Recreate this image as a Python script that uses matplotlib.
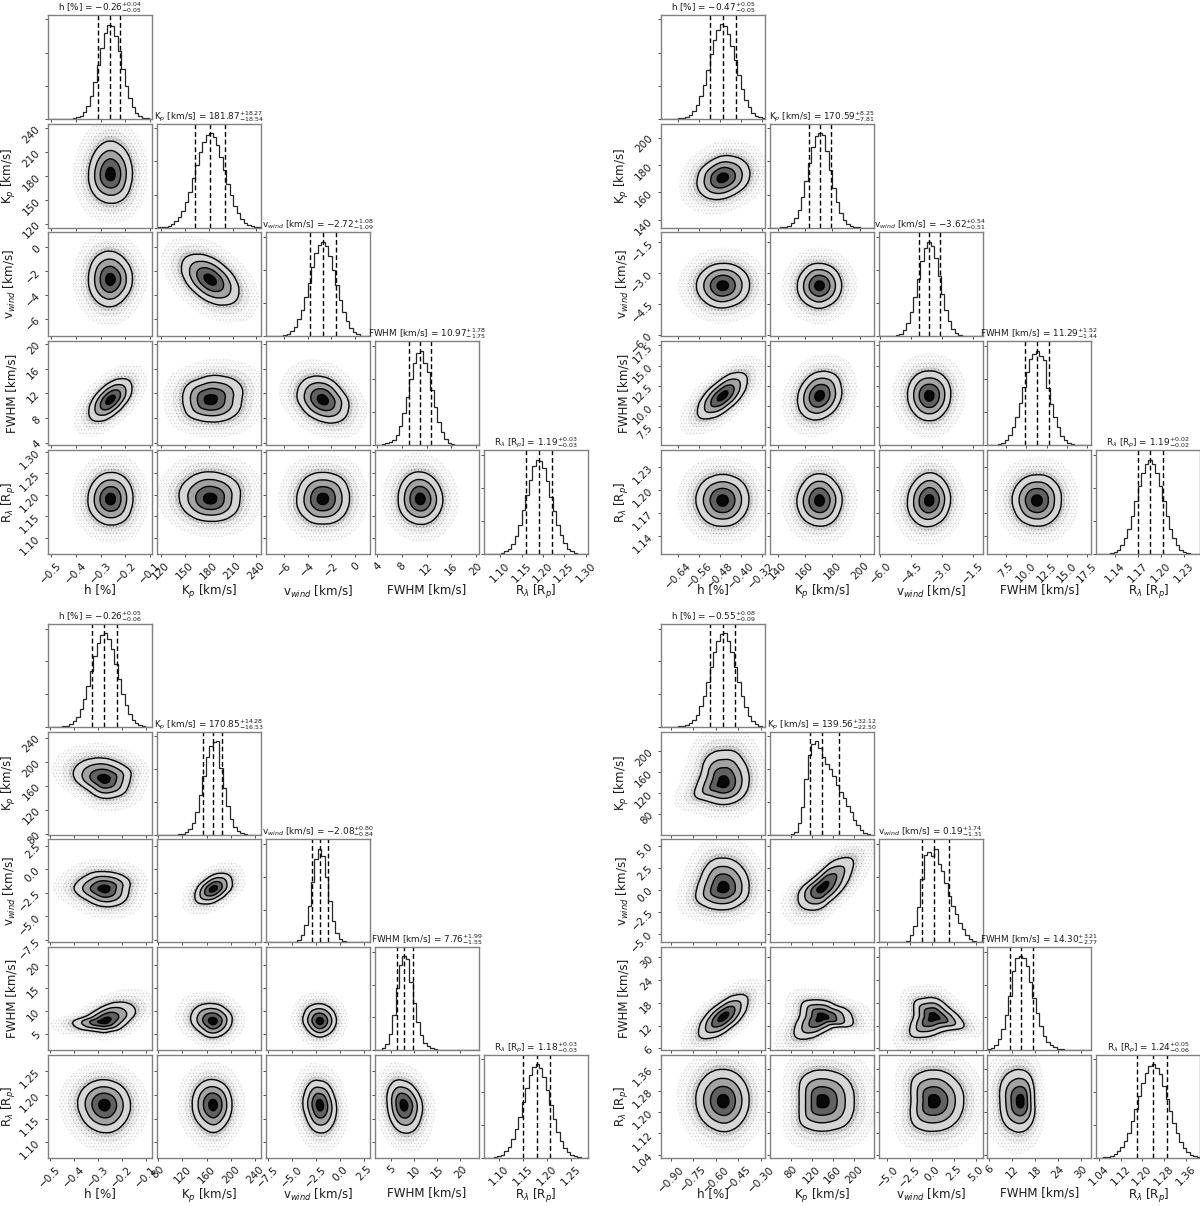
import numpy as np
import matplotlib
matplotlib.use("Agg")
import matplotlib.pyplot as plt
from matplotlib.path import Path
from matplotlib.patches import PathPatch

plt.rcParams["hatch.linewidth"] = 0.3

LABELS = ["h [%]", "K$_p$ [km/s]", "v$_{wind}$ [km/s]", "FWHM [km/s]", r"R$_{\lambda}$ [R$_p$]"]
ANGLES = np.deg2rad(np.arange(16) * 22.5)

# ---- top left
C1_TITLES = ["h [%] = $-0.26^{+0.04}_{-0.05}$", "K$_p$ [km/s] = $181.87^{+18.27}_{-18.54}$",
             "v$_{wind}$ [km/s] = $-2.72^{+1.08}_{-1.09}$", "FWHM [km/s] = $10.97^{+1.78}_{-1.75}$",
             r"R$_{\lambda}$ [R$_p$] = $1.19^{+0.03}_{-0.03}$"]
C1_LIMS = [(-0.511, -0.091), (115, 246), (-7.5, 1.24), (3.6, 20.4), (1.061, 1.304)]
C1_TICKS = [[-0.5, -0.4, -0.3, -0.2, -0.1], [120, 150, 180, 210, 240], [-6, -4, -2, 0], [4, 8, 12, 16, 20],
            [1.10, 1.15, 1.20, 1.25, 1.30]]
C1_FMT = ["%.1f", "%d", "%d", "%d", "%.2f"]
C1_QUANT = [(-0.31, -0.26, -0.22), (163.3, 181.87, 200.1), (-3.81, -2.72, -1.64), (9.22, 10.97, 12.75), (1.16, 1.19, 1.22)]
C1_HIST = [
    [0, 0, 0, 0, 0, 0, 0.1, 0.5, 1.3, 3, 7, 13, 24, 39, 57, 75, 91, 99, 98, 88, 72, 53, 35, 22, 12, 6, 2.5, 1, 0.3, 0],
    [0.2, 0.4, 0.9, 1.8, 3.4, 6.5, 11, 18, 27, 38, 52, 66, 80, 91, 98, 100, 96, 87, 75, 61, 46, 34, 23, 15, 9, 5, 2.6, 1.3, 0.7, 0.3],
    [0, 0, 0, 0.2, 0.6, 1.3, 2.8, 5.5, 10, 18, 28, 42, 57, 74, 88, 97, 100, 96, 85, 70, 54, 39, 26, 16, 9, 5, 2.4, 1, 0.4, 0.2],
    [0.1, 0.4, 1, 2.5, 4, 6, 11, 20, 34, 51, 70, 87, 98, 100, 87, 78, 59, 41, 25, 14, 7, 3, 1.3, 0.5, 0.2, 0, 0, 0, 0, 0],
    [0, 0, 0, 0.2, 0.6, 1.3, 3, 6, 11, 19, 31, 47, 63, 79, 93, 100, 99, 91, 78, 61, 46, 31, 20, 12, 6, 3, 1.5, 0.7, 0.2, 0.1],
]
C1_SHAPE = [
    [1.95, 2.0, 2.1, 2.2, 2.3, 2.2, 2.05, 1.95, 1.95, 2.0, 2.0, 1.95, 1.95, 2.0, 2.05, 1.95],
    [1.95, 2.0, 2.0, 2.1, 2.2, 2.2, 2.15, 2.0, 1.95, 2.0, 2.05, 2.1, 2.1, 2.0, 1.9, 1.95],
    [1.73, 1.5, 1.4, 1.5, 1.75, 2.15, 2.45, 2.15, 1.73, 1.5, 1.4, 1.5, 1.75, 2.15, 2.45, 2.15],
    [1.6, 2.1, 2.5, 2.1, 1.6, 1.35, 1.25, 1.35, 1.6, 2.1, 2.55, 2.15, 1.6, 1.3, 1.25, 1.3],
    [2.1, 2.4, 2.5, 2.3, 2.2, 2.0, 2.1, 1.95, 1.85, 1.9, 2.1, 2.0, 2.0, 2.1, 2.2, 2.2],
    [1.95, 1.7, 1.7, 1.9, 2.1, 2.3, 2.3, 2.1, 1.95, 1.75, 1.75, 1.8, 2.0, 2.3, 2.4, 2.15],
    [2.0, 2.05, 2.1, 2.1, 2.05, 2.05, 2.0, 2.0, 2.0, 2.05, 2.0, 2.0, 2.0, 2.05, 2.1, 2.0],
    [2.0, 2.2, 2.2, 2.1, 2.1, 2.15, 2.15, 2.2, 2.1, 2.0, 1.85, 1.75, 1.7, 1.8, 1.95, 2.05],
    [2.05, 2.1, 2.2, 2.1, 2.05, 2.1, 2.1, 2.0, 2.0, 2.05, 2.0, 2.0, 1.9, 2.0, 2.05, 2.05],
    [2.05, 2.0, 2.0, 2.05, 2.1, 2.15, 2.1, 2.05, 2.0, 2.05, 2.0, 1.95, 1.95, 2.0, 2.0, 2.05],
]

# ---- top right
C2_TITLES = ["h [%] = $-0.47^{+0.05}_{-0.05}$", "K$_p$ [km/s] = $170.59^{+8.25}_{-7.81}$",
             "v$_{wind}$ [km/s] = $-3.62^{+0.54}_{-0.51}$", "FWHM [km/s] = $11.29^{+1.52}_{-1.44}$",
             r"R$_{\lambda}$ [R$_p$] = $1.19^{+0.02}_{-0.02}$"]
C2_LIMS = [(-0.707, -0.307), (134.3, 210.2), (-6.09, -1.03), (5.2, 18.0), (1.116, 1.2515)]
C2_TICKS = [[-0.64, -0.56, -0.48, -0.40, -0.32], [140, 160, 180, 200], [-6.0, -4.5, -3.0, -1.5],
            [7.5, 10.0, 12.5, 15.0, 17.5], [1.14, 1.17, 1.20, 1.23]]
C2_FMT = ["%.2f", "%d", "%.1f", "%.1f", "%.2f"]
C2_QUANT = [(-0.52, -0.47, -0.42), (162.8, 170.59, 178.84), (-4.13, -3.62, -3.08), (9.85, 11.29, 12.81), (1.17, 1.186, 1.203)]
C2_HIST = [
    [0, 0, 0, 0, 0.1, 0.3, 0.9, 2, 4, 8, 15, 24, 36, 52, 68, 83, 94, 100, 98, 90, 77, 62, 46, 31, 20, 12, 6.5, 3, 1.5, 0.6],
    [0, 0, 0.1, 0.3, 0.9, 2.2, 5, 10, 19, 32, 49, 68, 85, 97, 100, 98, 81, 61, 42, 27, 15, 8, 4, 1.6, 0.7, 0.3, 0.1, 0, 0, 0],
    [0, 0, 0, 0.2, 0.5, 1.3, 3, 7, 14, 26, 42, 61, 80, 94, 100, 96, 83, 64, 45, 28, 16, 8, 4, 1.6, 0.6, 0.2, 0, 0, 0, 0],
    [0.1, 0.2, 0.5, 1.2, 2.8, 5.5, 11, 19, 30, 45, 62, 78, 91, 97, 100, 95, 90, 61, 44, 30, 19, 10, 5.5, 2.8, 1.2, 0.5, 0.2, 0, 0, 0],
    [0, 0.1, 0.2, 0.5, 1.2, 2.6, 5, 10, 17, 27, 40, 56, 72, 86, 96, 100, 96, 86, 72, 56, 40, 27, 17, 10, 5, 2.6, 1.2, 0.5, 0.2, 0.1],
]
C2_SHAPE = [
    [2.05, 2.2, 2.25, 2.1, 2.0, 1.8, 1.75, 1.85, 1.9, 2.1, 2.2, 2.1, 1.9, 1.75, 1.75, 1.9],
    [2.05, 2.1, 2.1, 2.1, 2.05, 2.05, 2.0, 2.0, 2.0, 2.0, 2.0, 2.05, 2.05, 2.0, 2.05, 2.05],
    [2.0, 2.0, 2.05, 2.05, 2.05, 2.1, 2.0, 2.0, 2.0, 2.05, 2.05, 2.05, 2.1, 2.0, 2.0, 2.0],
    [1.45, 2.0, 2.6, 2.1, 1.45, 1.15, 1.1, 1.2, 1.45, 2.05, 2.65, 2.0, 1.45, 1.15, 1.1, 1.2],
    [2.0, 2.1, 2.3, 2.15, 2.0, 1.9, 1.8, 1.85, 1.95, 2.1, 2.2, 2.1, 1.95, 1.8, 1.8, 1.85],
    [1.95, 2.05, 2.1, 2.1, 2.05, 2.1, 2.1, 2.05, 2.0, 2.0, 2.0, 2.05, 2.05, 2.05, 1.95, 1.95],
    [2.0, 2.05, 2.1, 2.05, 2.05, 2.05, 2.1, 2.05, 2.05, 2.0, 2.05, 2.05, 2.0, 2.05, 2.0, 2.0],
    [2.05, 2.05, 2.0, 2.1, 2.1, 2.1, 2.0, 2.0, 2.05, 2.05, 2.05, 2.0, 2.0, 2.05, 2.05, 2.0],
    [1.95, 2.0, 2.05, 2.15, 2.2, 2.1, 2.0, 2.0, 2.0, 2.1, 2.1, 2.1, 2.05, 1.95, 1.95, 1.9],
    [2.0, 2.1, 2.1, 2.1, 2.0, 2.05, 2.05, 2.05, 2.05, 2.0, 2.05, 2.0, 2.0, 2.05, 2.05, 2.05],
]

# ---- bottom left
C3_TITLES = ["h [%] = $-0.26^{+0.05}_{-0.06}$", "K$_p$ [km/s] = $170.85^{+14.28}_{-16.53}$",
             "v$_{wind}$ [km/s] = $-2.08^{+0.80}_{-0.84}$", "FWHM [km/s] = $7.76^{+1.99}_{-1.55}$",
             r"R$_{\lambda}$ [R$_p$] = $1.18^{+0.03}_{-0.03}$"]
C3_LIMS = [(-0.508, -0.074), (78, 250), (-7.74, 3.15), (1.47, 23.95), (1.067, 1.285)]
C3_TICKS = [[-0.5, -0.4, -0.3, -0.2, -0.1], [80, 120, 160, 200, 240], [-7.5, -5.0, -2.5, 0.0, 2.5], [5, 10, 15, 20],
            [1.10, 1.15, 1.20, 1.25]]
C3_FMT = ["%.1f", "%d", "%.1f", "%d", "%.2f"]
C3_QUANT = [(-0.327, -0.274, -0.221), (154.3, 170.85, 185.1), (-2.92, -2.08, -1.28), (6.21, 7.76, 9.75), (1.15, 1.179, 1.207)]
C3_HIST = [
    [0, 0, 0, 0.2, 0.7, 1.4, 3, 6, 11, 19, 30, 44, 60, 76, 90, 98, 100, 94, 83, 67, 51, 35, 23, 14, 8, 4, 1.8, 0.9, 0.4, 0.1],
    [0, 0, 0, 0, 0.1, 0.2, 0.5, 1.2, 3, 6, 13, 24, 42, 63, 83, 95, 99, 100, 71, 50, 31, 17, 8, 3.5, 1.5, 0.6, 0.2, 0.1, 0, 0],
    [0, 0, 0, 0, 0, 0, 0, 0.2, 0.8, 3, 8, 19, 39, 65, 89, 100, 92, 70, 44, 23, 10, 3.5, 1, 0.3, 0.1, 0, 0, 0, 0, 0],
    [0, 0.4, 2, 6, 17, 37, 66, 91, 100, 97, 73, 50, 30, 16, 8, 4, 2, 1, 0.6, 0.4, 0.3, 0.2, 0.1, 0, 0, 0, 0, 0, 0, 0],
    [0.1, 0.2, 0.3, 0.8, 1.8, 3.5, 7, 12, 20, 31, 44, 60, 75, 88, 97, 100, 96, 86, 72, 56, 41, 28, 18, 11, 6, 3, 1.5, 0.7, 0.3, 0.1],
]
C3_SHAPE = [
    [2.0, 2.25, 2.1, 2.1, 2.25, 2.4, 2.6, 2.6, 2.35, 1.9, 1.7, 1.9, 2.1, 2.1, 2.2, 2.0],
    [1.9, 2.2, 2.25, 2.2, 2.2, 2.3, 2.2, 2.3, 2.4, 2.15, 1.95, 2.1, 2.3, 2.35, 2.25, 2.0],
    [1.95, 2.2, 2.5, 2.2, 1.8, 1.5, 1.4, 1.55, 1.75, 2.15, 2.5, 2.1, 1.8, 1.5, 1.5, 1.55],
    [1.9, 2.7, 3.0, 2.6, 1.9, 1.5, 1.4, 1.5, 2.6, 2.3, 1.6, 1.35, 1.4, 1.3, 1.5, 1.6],
    [2.0, 2.1, 2.0, 2.1, 2.15, 2.3, 2.5, 2.5, 2.4, 2.1, 1.9, 2.0, 2.0, 1.95, 1.9, 1.95],
    [2.1, 2.1, 2.1, 2.1, 2.15, 2.2, 2.3, 2.2, 2.2, 1.95, 1.9, 1.9, 1.95, 1.9, 1.95, 2.0],
    [2.05, 2.0, 1.95, 1.85, 1.85, 1.9, 2.0, 2.1, 2.1, 2.0, 2.0, 2.0, 2.05, 2.1, 2.05, 2.05],
    [2.0, 2.0, 1.95, 1.85, 1.85, 1.95, 2.1, 2.25, 2.25, 2.2, 2.05, 2.0, 2.05, 2.0, 1.95, 2.0],
    [2.1, 1.9, 1.85, 1.8, 1.75, 1.95, 2.1, 2.15, 2.2, 2.0, 2.0, 2.05, 2.05, 2.15, 2.2, 2.2],
    [2.3, 2.0, 1.8, 1.75, 1.75, 2.0, 2.2, 2.2, 2.0, 1.95, 1.95, 2.0, 2.05, 2.2, 2.3, 2.3],
]

# ---- bottom right
C4_TITLES = ["h [%] = $-0.55^{+0.08}_{-0.09}$", "K$_p$ [km/s] = $139.56^{+32.12}_{-22.50}$",
             "v$_{wind}$ [km/s] = $0.19^{+1.74}_{-1.31}$", "FWHM [km/s] = $14.30^{+3.21}_{-2.77}$",
             r"R$_{\lambda}$ [R$_p$] = $1.24^{+0.05}_{-0.06}$"]
C4_LIMS = [(-0.967, -0.272), (40, 238), (-6.0, 5.7), (5.5, 32.75), (1.029, 1.414)]
C4_TICKS = [[-0.90, -0.75, -0.60, -0.45, -0.30], [80, 120, 160, 200], [-5.0, -2.5, 0.0, 2.5, 5.0], [6, 12, 18, 24, 30],
            [1.04, 1.12, 1.20, 1.28, 1.36]]
C4_FMT = ["%.2f", "%d", "%.1f", "%d", "%.2f"]
C4_QUANT = [(-0.64, -0.55, -0.47), (117.1, 139.56, 171.7), (-1.12, 0.19, 1.93), (11.53, 14.30, 17.51), (1.18, 1.24, 1.29)]
C4_HIST = [
    [0, 0.1, 0.2, 0.3, 0.5, 0.8, 1.2, 2, 4, 7, 13, 22, 33, 48, 64, 80, 92, 99, 100, 92, 80, 64, 48, 33, 21, 12, 6, 3, 1.2, 0.4],
    [0, 0, 0, 0, 0, 0, 0.5, 3, 12, 30, 60, 85, 97, 100, 93, 83, 76, 70, 63, 53, 46, 39, 31, 24, 16, 10, 5, 2, 0.7, 0.2],
    [0, 0, 0, 0, 0.1, 0.1, 0.3, 0.7, 1.5, 8, 18, 38, 68, 93, 97, 92, 100, 84, 76, 63, 50, 39, 30, 21, 14, 8, 4, 2, 0.8, 0.3],
    [0.7, 2, 5, 12, 23, 38, 58, 85, 98, 100, 98, 90, 73, 56, 40, 26, 15, 9, 5, 3, 1.5, 0.8, 0.4, 0.2, 0.1, 0.1, 0, 0, 0, 0],
    [0.1, 0.2, 0.5, 1, 2, 4, 7, 12, 18, 27, 39, 52, 66, 80, 91, 98, 100, 96, 89, 77, 63, 50, 37, 26, 17, 11, 6, 3.5, 1.8, 0.8],
]
C4_SHAPE = [
    [2.0, 2.1, 2.2, 2.4, 2.25, 2.3, 2.15, 1.8, 2.0, 2.55, 1.75, 1.55, 1.5, 1.55, 1.7, 1.9],
    [2.0, 2.05, 2.1, 2.2, 2.2, 2.25, 2.05, 1.9, 2.05, 2.35, 1.95, 1.7, 1.6, 1.65, 1.75, 2.0],
    [1.5, 2.1, 3.2, 2.3, 1.3, 1.0, 0.95, 1.05, 1.45, 1.85, 2.05, 1.8, 1.5, 1.15, 1.1, 1.2],
    [1.45, 2.0, 2.7, 2.1, 1.4, 1.15, 1.1, 1.2, 1.45, 2.05, 2.7, 2.0, 1.45, 1.15, 1.1, 1.2],
    [2.1, 1.85, 1.35, 1.4, 1.45, 1.6, 1.9, 1.6, 1.5, 2.05, 2.7, 2.1, 1.4, 1.2, 1.2, 2.3],
    [1.9, 1.45, 1.35, 1.5, 1.7, 1.75, 2.0, 1.55, 1.4, 1.85, 2.45, 1.95, 1.6, 1.4, 1.6, 2.55],
    [2.0, 2.05, 2.1, 2.15, 2.15, 2.2, 2.2, 2.2, 2.15, 2.1, 2.05, 2.0, 2.05, 2.05, 2.0, 2.0],
    [2.2, 2.3, 2.3, 2.15, 2.1, 2.15, 2.1, 1.7, 1.55, 1.7, 2.15, 2.05, 2.0, 2.05, 2.3, 2.3],
    [2.2, 2.25, 2.15, 2.15, 2.1, 2.15, 2.2, 1.8, 1.6, 1.85, 2.2, 2.1, 2.0, 2.05, 2.15, 2.2],
    [1.15, 1.25, 1.55, 2.0, 2.15, 2.2, 2.2, 2.0, 1.8, 1.9, 2.1, 2.1, 2.1, 1.9, 1.6, 1.3],
]

CLOUD = [(1.75, "0.975", "0.8"), (1.4, "0.93", "0.65"), (1.18, "0.82", "0.45")]
BANDS = [(1.03, "0.84"), (0.74, "0.64"), (0.48, "0.38"), (0.22, "0.03")]

FIG_W, FIG_H = 1200, 1206
fig = plt.figure(figsize=(FIG_W / 100, FIG_H / 100), dpi=100)


def new_axes(left, top, w, h):
    return fig.add_axes([left / FIG_W, 1 - (top + h) / FIG_H, w / FIG_W, h / FIG_H])


def blob_path(cx, cy, sx, sy, radii, scale):
    xs = cx + scale * np.array(radii) * np.cos(ANGLES) * sx
    ys = cy + scale * np.array(radii) * np.sin(ANGLES) * sy
    pts = np.column_stack([xs, ys])
    nxt = np.roll(pts, -1, axis=0)
    mids = (pts + nxt) / 2
    verts = [mids[-1]]
    codes = [Path.MOVETO]
    for i in range(len(pts)):
        verts += [pts[i], mids[i]]
        codes += [Path.CURVE3, Path.CURVE3]
    return Path(verts, codes)


def style(ax, lim_x, lim_y, ticks_x, ticks_y):
    ax.set_xlim(lim_x)
    ax.set_ylim(lim_y)
    ax.set_xticks(ticks_x)
    ax.set_yticks(ticks_y)
    ax.tick_params(labelbottom=False, labelleft=False, length=2.5, width=0.7, color="0.3", labelsize=7.6, labelcolor="0.1", pad=2)
    for spine in ax.spines.values():
        spine.set_color("0.5")
        spine.set_linewidth(1.0)


def draw_corner(x0, y0, pitch_y, h, titles, lims, ticks, fmts, quants, hists, shapes):
    pitch_x = 108.8
    w = 104
    tick_text = [[(fmts[k] % t).replace("-", "\u2212") for t in ticks[k]] for k in range(5)]
    sigmas = [(q[2] - q[0]) / 2 for q in quants]
    n = 0
    for row in range(5):
        for col in range(row + 1):
            ax = new_axes(x0 + col * pitch_x, y0 + row * pitch_y, w, h)
            if row == col:
                edges = np.linspace(lims[col][0], lims[col][1], len(hists[col]) + 1)
                ax.stairs(hists[col], edges, color="0.15", linewidth=0.9)
                for q in quants[col]:
                    ax.axvline(q, color="k", linestyle="--", linewidth=1.0, dashes=(3.5, 2))
                style(ax, lims[col], (0, 110), ticks[col], [0, 35, 70, 105])
                ax.set_title(titles[col], fontsize=6.4, pad=1.5, color="0.1")
            else:
                cx, cy = quants[col][1], quants[row][1]
                sx, sy = sigmas[col], sigmas[row]
                radii = shapes[n]
                n += 1
                for scale, grey, speck in CLOUD:
                    ax.add_patch(PathPatch(blob_path(cx, cy, sx, sy, radii, scale), facecolor=grey, edgecolor=speck,
                                           hatch=".....", linewidth=0))
                for scale, grey in BANDS:
                    ax.add_patch(PathPatch(blob_path(cx, cy, sx, sy, radii, scale), facecolor=grey, edgecolor="k", linewidth=1.0))
                style(ax, lims[col], lims[row], ticks[col], ticks[row])
            if row == 4:
                ax.tick_params(labelbottom=True)
                ax.set_xticklabels(tick_text[col], rotation=45)
                ax.set_xlabel(LABELS[col], fontsize=8.6, color="0.1")
                ax.xaxis.set_label_coords(0.5, -0.28)
            if col == 0 and row > 0:
                ax.tick_params(labelleft=True)
                ax.set_yticklabels(tick_text[row], rotation=45)
                ax.set_ylabel(LABELS[row], fontsize=8.6, color="0.1")
                ax.yaxis.set_label_coords(-0.29, 0.5)


draw_corner(48.3, 14.7, 108.9, 104, C1_TITLES, C1_LIMS, C1_TICKS, C1_FMT, C1_QUANT, C1_HIST, C1_SHAPE)
draw_corner(661, 14.7, 108.9, 104, C2_TITLES, C2_LIMS, C2_TICKS, C2_FMT, C2_QUANT, C2_HIST, C2_SHAPE)
draw_corner(48.3, 624, 107.7, 103, C3_TITLES, C3_LIMS, C3_TICKS, C3_FMT, C3_QUANT, C3_HIST, C3_SHAPE)
draw_corner(661, 624, 107.7, 103, C4_TITLES, C4_LIMS, C4_TICKS, C4_FMT, C4_QUANT, C4_HIST, C4_SHAPE)

fig.savefig("out.png", dpi=100)
